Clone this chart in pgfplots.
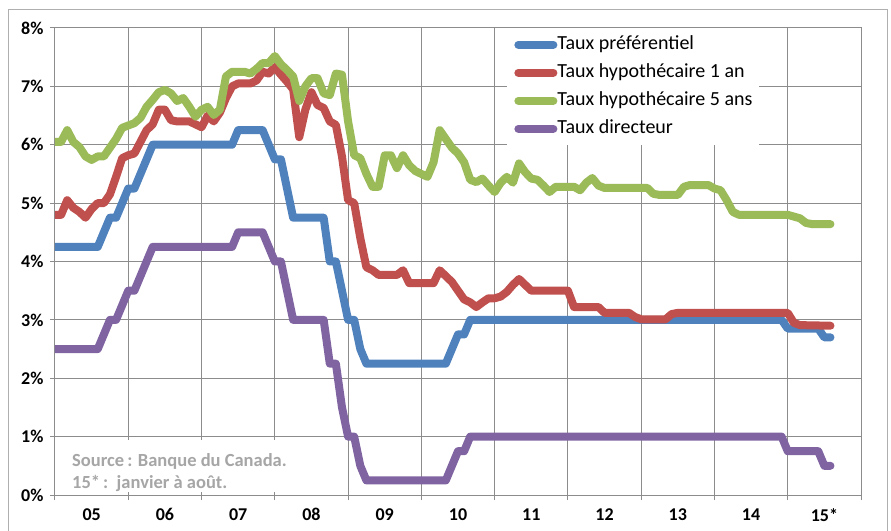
\documentclass[border=0pt]{standalone}
\usepackage{pgfplots}
\pgfplotsset{compat=1.18}
\usepackage{pgfplotstable}
\usepackage{fontspec}
\setmainfont{Carlito}

\definecolor{cblue}{HTML}{4F81BD}
\definecolor{cred}{HTML}{C0504D}
\definecolor{cgreen}{HTML}{9BBB59}
\definecolor{cpurple}{HTML}{8064A2}
\definecolor{gridgray}{RGB}{140,140,140}
\definecolor{framegray}{RGB}{175,175,175}
\definecolor{srcgray}{RGB}{166,166,166}

% x = month index, 0 = janvier 2005
\pgfplotstableread{
m v
0 4.25
7 4.25
8 4.50
9 4.75
10 4.75
11 5.00
12 5.25
13 5.25
14 5.50
15 5.75
16 6.00
29 6.00
30 6.25
34 6.25
35 6.00
36 5.75
37 5.75
38 5.25
39 4.75
44 4.75
45 4.00
46 4.00
47 3.50
48 3.00
49 3.00
50 2.50
51 2.25
64 2.25
65 2.50
66 2.75
67 2.75
68 3.00
119 3.00
120 2.85
125 2.85
126 2.70
127 2.70
}\prefrate

\pgfplotstableread{
m v
0 4.80
1 4.80
2 5.05
3 4.92
4 4.85
5 4.75
6 4.90
7 5.00
8 5.00
9 5.15
10 5.45
11 5.77
12 5.82
13 5.85
14 6.05
15 6.25
16 6.35
17 6.60
18 6.60
19 6.42
20 6.40
21 6.40
22 6.40
23 6.35
24 6.30
25 6.50
26 6.40
27 6.55
28 6.80
29 7.00
30 7.05
31 7.05
32 7.05
33 7.10
34 7.25
35 7.22
36 7.33
37 7.20
38 7.08
39 6.95
40 6.13
41 6.60
42 6.90
43 6.68
44 6.63
45 6.40
46 6.34
47 5.80
48 5.05
49 5.00
50 4.40
51 3.90
52 3.85
53 3.77
54 3.77
55 3.77
56 3.77
57 3.85
58 3.63
59 3.63
60 3.63
61 3.63
62 3.63
63 3.85
64 3.75
65 3.65
66 3.50
67 3.35
68 3.30
69 3.22
70 3.30
71 3.37
72 3.37
73 3.40
74 3.48
75 3.60
76 3.70
77 3.60
78 3.50
84 3.50
85 3.22
89 3.22
90 3.12
94 3.12
95 3.05
96 3.01
100 3.01
101 3.10
102 3.12
120 3.12
121 2.95
122 2.91
127 2.90
}\mortone

\pgfplotstableread{
m v
0 6.05
1 6.05
2 6.25
3 6.05
4 5.96
5 5.80
6 5.74
7 5.80
8 5.80
9 5.95
10 6.10
11 6.29
12 6.33
13 6.37
14 6.46
15 6.65
16 6.77
17 6.90
18 6.94
19 6.88
20 6.75
21 6.80
22 6.65
23 6.48
24 6.60
25 6.65
26 6.51
27 6.60
28 7.17
29 7.25
30 7.25
31 7.25
32 7.22
33 7.30
34 7.40
35 7.40
36 7.52
37 7.38
38 7.28
39 7.17
40 6.75
41 7.00
42 7.14
43 7.14
44 6.88
45 6.85
46 7.22
47 7.20
48 6.40
49 5.82
50 5.77
51 5.50
52 5.28
53 5.28
54 5.82
55 5.82
56 5.60
57 5.82
58 5.65
59 5.55
60 5.50
61 5.45
62 5.70
63 6.25
64 6.10
65 5.95
66 5.85
67 5.70
68 5.40
69 5.36
70 5.42
71 5.30
72 5.19
73 5.35
74 5.45
75 5.35
76 5.68
77 5.53
78 5.42
79 5.40
80 5.30
81 5.19
82 5.28
85 5.28
86 5.22
87 5.35
88 5.43
89 5.30
90 5.26
97 5.26
98 5.16
99 5.14
102 5.14
103 5.28
104 5.31
107 5.31
108 5.25
109 5.22
110 5.05
111 4.85
112 4.80
120 4.80
121 4.77
122 4.74
123 4.66
124 4.64
127 4.64
}\mortfive

\pgfplotstableread{
m v
0 2.50
7 2.50
8 2.75
9 3.00
10 3.00
11 3.25
12 3.50
13 3.50
14 3.75
15 4.00
16 4.25
29 4.25
30 4.50
34 4.50
35 4.25
36 4.00
37 4.00
38 3.50
39 3.00
44 3.00
45 2.25
46 2.25
47 1.50
48 1.00
49 1.00
50 0.50
51 0.25
64 0.25
65 0.50
66 0.75
67 0.75
68 1.00
119 1.00
120 0.75
125 0.75
126 0.50
127 0.50
}\overnight

\begin{document}
\begin{tikzpicture}
\begin{axis}[
    scale only axis,
    width=806bp, height=467bp,
    xmin=0, xmax=132, ymin=0, ymax=8,
    xtick={0,12,...,132},
    x tick label as interval,
    xticklabels={05,06,07,08,09,10,11,12,13,14,15*},
    ytick={0,1,...,8},
    yticklabels={0\%,1\%,2\%,3\%,4\%,5\%,6\%,7\%,8\%},
    grid=major,
    major grid style={gridgray, line width=1bp},
    axis line style={gridgray, line width=1bp},
    tick style={gridgray, line width=1bp},
    tick align=outside,
    major tick length=5bp,
    xtick pos=bottom, ytick pos=left,
    ticklabel style={font=\fontsize{18bp}{21bp}\selectfont\bfseries},
    xticklabel style={yshift=-5bp},
    yticklabel style={xshift=-3bp},
    every axis plot/.append style={line width=8bp, line join=round, line cap=round},
    legend image code/.code={\draw[#1] (0bp,0bp) -- (35bp,0bp);},
    legend cell align=left,
    legend style={at={(rel axis cs:0.561,1)}, anchor=north west,
        fill=white, draw=none, inner xsep=7bp, inner ysep=7bp,
        font=\fontsize{20bp}{24bp}\selectfont,
        row sep=9bp,
        nodes={inner sep=0pt, text height=14bp, text depth=5bp}},
]
\addplot[cblue] table[x=m, y=v] {\prefrate};
\addplot[cred] table[x=m, y=v] {\mortone};
\addplot[cgreen] table[x=m, y=v] {\mortfive};
\addplot[cpurple] table[x=m, y=v] {\overnight};
\legend{Taux préférentiel, Taux hypothécaire 1 an, Taux hypothécaire 5 ans, Taux directeur}
\end{axis}
\fill[white] (7bp,3bp) rectangle (236bp,55bp);
\node[anchor=base west, inner sep=0pt, text=srcgray, font=\fontsize{18.5bp}{21bp}\selectfont\bfseries] at (17bp,29bp) {Source\,: Banque du Canada.};
\node[anchor=base west, inner sep=0pt, text=srcgray, font=\fontsize{18.5bp}{21bp}\selectfont\bfseries] at (17bp,7bp) {15*\,:\ \ janvier à août.};
\draw[framegray, line width=1bp] (-46bp,-60bp) rectangle (832bp,485bp);
\pgfresetboundingbox
\useasboundingbox (-55bp,-36bp) rectangle (836bp,495bp);
\end{tikzpicture}
\end{document}
